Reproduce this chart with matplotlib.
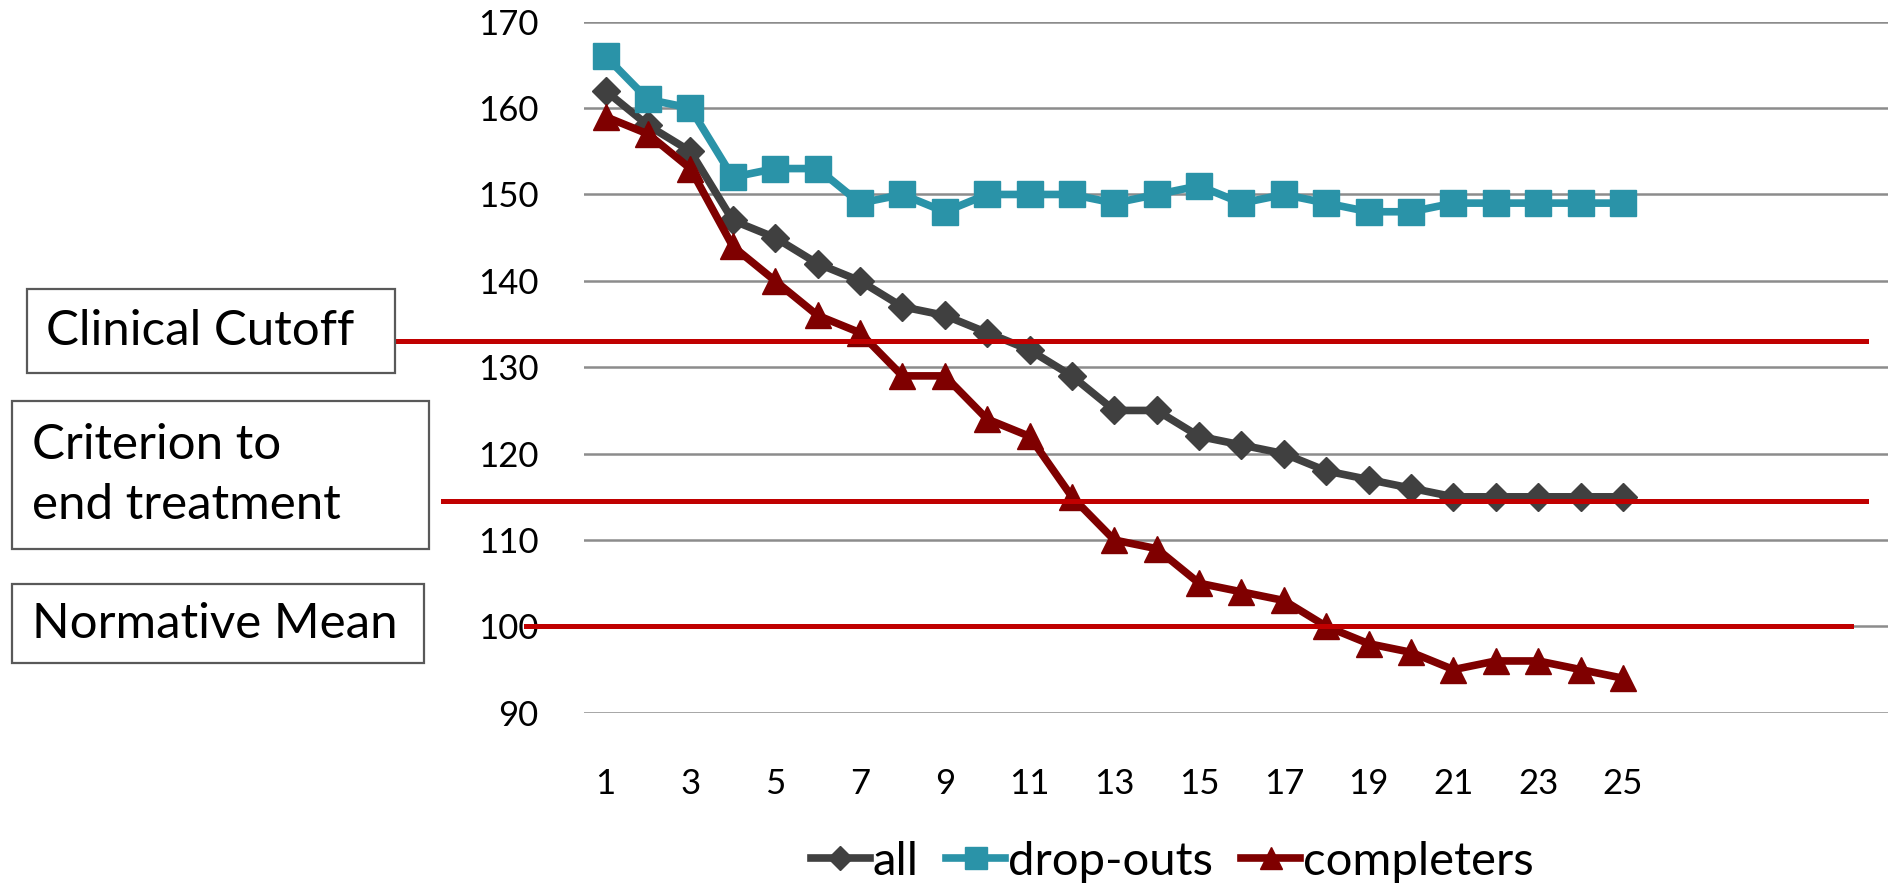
import matplotlib.pyplot as plt
from matplotlib.patches import Rectangle

plt.rcParams['font.family'] = ['Lato', 'DejaVu Sans']

# mean scores per session
sessions = list(range(1, 26))
all_scores = [162, 158, 155, 147, 145, 142, 140, 137, 136, 134, 132, 129, 125,
              125, 122, 121, 120, 118, 117, 116, 115, 115, 115, 115, 115]
dropout_scores = [166, 161, 160, 152, 153, 153, 149, 150, 148, 150, 150, 150, 149,
                  150, 151, 149, 150, 149, 148, 148, 149, 149, 149, 149, 149]
completer_scores = [159, 157, 153, 144, 140, 136, 134, 129, 129, 124, 122, 115, 110,
                    109, 105, 104, 103, 100, 98, 97, 95, 96, 96, 95, 94]

# reference levels drawn as red lines with a label box on the left
ref_labels = ['Clinical Cutoff', 'Criterion to\nend treatment', 'Normative Mean']
ref_values = [133, 114.5, 100]

W, H = 1888, 890
fig = plt.figure(figsize=(W / 100, H / 100), dpi=100)
ax_left, ax_bottom, ax_top = 584.4, 712.8, 21.7
ax = fig.add_axes([ax_left / W, 1 - ax_bottom / H, 1 - ax_left / W, (ax_bottom - ax_top) / H])

ax.plot(sessions, all_scores, color='#404040', lw=5.5, marker='D', ms=14,
        mec='#404040', label='all', zorder=3)
ax.plot(sessions, dropout_scores, color='#2A93A8', lw=5.5, marker='s', ms=19,
        mec='#2A93A8', label='drop-outs', zorder=3)
ax.plot(sessions, completer_scores, color='#7F0000', lw=5.5, marker='^', ms=19,
        mec='#7F0000', label='completers', zorder=3)

ax.set_xlim(0.5, 31.25)
ax.set_ylim(90, 170)
ax.set_yticks(range(90, 171, 10))
ax.set_xticks(range(1, 26, 2))
ax.grid(axis='y', color='#8C8C8C', lw=1.8)
ax.set_axisbelow(True)
for s in ax.spines.values():
    s.set_visible(False)
ax.tick_params(axis='y', length=0, pad=33, labelsize=25)
ax.tick_params(axis='x', length=0, pad=40, labelsize=25)

# red reference lines, extending left towards the label boxes
line_spans = [(396, 1866), (443, 1866), (526, 1851)]
width_px = W - ax_left
for val, (x0, x1) in zip(ref_values, line_spans):
    ax.axhline(val, (x0 - ax_left) / width_px, (x1 - ax_left) / width_px,
               color='#C00000', lw=3.6, clip_on=False, zorder=5)

# label boxes in pixel layout
boxes = [(26.5, 289, 395, 373), (12, 401, 429, 549), (12, 584, 424, 663)]
for text, (x0, y0, x1, y1) in zip(ref_labels, boxes):
    fig.patches.append(Rectangle((x0 / W, 1 - y1 / H), (x1 - x0) / W, (y1 - y0) / H,
                                 transform=fig.transFigure, fill=False,
                                 edgecolor='#595959', lw=1.6))
    fig.text((x0 + 20) / W, 1 - (y0 + y1) / 2 / H, text, fontsize=35.5,
             ha='left', va='center', linespacing=1.45)

ax.legend(loc='center', bbox_to_anchor=(1172 / W, 1 - 862 / H),
          bbox_transform=fig.transFigure, ncol=3, frameon=False, fontsize=34,
          handlelength=1.25, handletextpad=0.05, columnspacing=0.6, markerscale=0.85)

fig.savefig('out.png', dpi=100)
